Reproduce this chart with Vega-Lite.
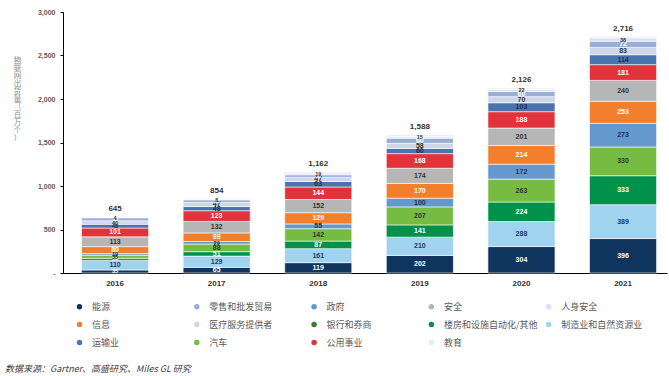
{
  "$schema": "https://vega.github.io/schema/vega-lite/v6.json",
  "width": 604,
  "height": 261,
  "autosize": {"type": "none"},
  "padding": {"left": 63, "top": 12, "right": 2, "bottom": 103},
  "background": "white",
  "config": {
    "view": {"stroke": null},
    "font": "Liberation Sans",
    "axisY": {
      "titleAngle": 0,
      "titleFont": "Noto Sans CJK SC",
      "titleFontSize": 7.5,
      "titleFontWeight": "normal",
      "titleColor": "#8c8c8c",
      "titleLineHeight": 7.8,
      "titleAlign": "center",
      "titleBaseline": "top",
      "titleX": -46,
      "titleY": 44,
      "values": [0, 500, 1000, 1500, 2000, 2500, 3000],
      "labelExpr": "datum.value === 0 ? '-' : format(datum.value, ',')",
      "labelFontSize": 7,
      "labelFontWeight": "bold",
      "labelColor": "#595959",
      "labelPadding": 5,
      "domainColor": "#000000",
      "tickColor": "#000000",
      "tickSize": 3,
      "grid": false
    }
  },
  "title": {
    "text": "数据来源：Gartner、高盛研究、Miles GL 研究",
    "orient": "bottom",
    "anchor": "start",
    "frame": "group",
    "font": "Noto Sans CJK SC",
    "fontSize": 9,
    "fontStyle": "italic",
    "fontWeight": "normal",
    "color": "#404040",
    "dx": -58,
    "offset": 17
  },
  "data": {
    "values": [
      {"year": "2016", "s": "能源", "k": 1, "v": 35},
      {"year": "2016", "s": "制造业和自然资源业", "k": 2, "v": 110},
      {"year": "2016", "s": "楼房和设施自动化/其他", "k": 3, "v": 24},
      {"year": "2016", "s": "汽车", "k": 4, "v": 35},
      {"year": "2016", "s": "政府", "k": 5, "v": 19},
      {"year": "2016", "s": "信息", "k": 6, "v": 80},
      {"year": "2016", "s": "安全", "k": 7, "v": 113},
      {"year": "2016", "s": "公用事业", "k": 8, "v": 101},
      {"year": "2016", "s": "运输业", "k": 9, "v": 43},
      {"year": "2016", "s": "医疗服务提供者", "k": 10, "v": 40},
      {"year": "2016", "s": "零售和批发贸易", "k": 11, "v": 35},
      {"year": "2016", "s": "人身安全", "k": 12, "v": 4},
      {"year": "2016", "s": "教育", "k": 13, "v": 6},

      {"year": "2017", "s": "能源", "k": 1, "v": 65},
      {"year": "2017", "s": "制造业和自然资源业", "k": 2, "v": 129},
      {"year": "2017", "s": "楼房和设施自动化/其他", "k": 3, "v": 51},
      {"year": "2017", "s": "汽车", "k": 4, "v": 88},
      {"year": "2017", "s": "政府", "k": 5, "v": 29},
      {"year": "2017", "s": "信息", "k": 6, "v": 99},
      {"year": "2017", "s": "安全", "k": 7, "v": 132},
      {"year": "2017", "s": "公用事业", "k": 8, "v": 123},
      {"year": "2017", "s": "运输业", "k": 9, "v": 48},
      {"year": "2017", "s": "医疗服务提供者", "k": 10, "v": 47},
      {"year": "2017", "s": "零售和批发贸易", "k": 11, "v": 30},
      {"year": "2017", "s": "人身安全", "k": 12, "v": 6},
      {"year": "2017", "s": "教育", "k": 13, "v": 7},

      {"year": "2018", "s": "能源", "k": 1, "v": 119},
      {"year": "2018", "s": "制造业和自然资源业", "k": 2, "v": 161},
      {"year": "2018", "s": "楼房和设施自动化/其他", "k": 3, "v": 87},
      {"year": "2018", "s": "汽车", "k": 4, "v": 142},
      {"year": "2018", "s": "政府", "k": 5, "v": 55},
      {"year": "2018", "s": "信息", "k": 6, "v": 129},
      {"year": "2018", "s": "安全", "k": 7, "v": 152},
      {"year": "2018", "s": "公用事业", "k": 8, "v": 144},
      {"year": "2018", "s": "运输业", "k": 9, "v": 63},
      {"year": "2018", "s": "医疗服务提供者", "k": 10, "v": 47},
      {"year": "2018", "s": "零售和批发贸易", "k": 11, "v": 30},
      {"year": "2018", "s": "人身安全", "k": 12, "v": 19},
      {"year": "2018", "s": "教育", "k": 13, "v": 14},

      {"year": "2019", "s": "能源", "k": 1, "v": 202},
      {"year": "2019", "s": "制造业和自然资源业", "k": 2, "v": 210},
      {"year": "2019", "s": "楼房和设施自动化/其他", "k": 3, "v": 141},
      {"year": "2019", "s": "汽车", "k": 4, "v": 207},
      {"year": "2019", "s": "政府", "k": 5, "v": 100},
      {"year": "2019", "s": "信息", "k": 6, "v": 170},
      {"year": "2019", "s": "安全", "k": 7, "v": 174},
      {"year": "2019", "s": "公用事业", "k": 8, "v": 168},
      {"year": "2019", "s": "运输业", "k": 9, "v": 60},
      {"year": "2019", "s": "医疗服务提供者", "k": 10, "v": 58},
      {"year": "2019", "s": "零售和批发贸易", "k": 11, "v": 60},
      {"year": "2019", "s": "人身安全", "k": 12, "v": 15},
      {"year": "2019", "s": "教育", "k": 13, "v": 23},

      {"year": "2020", "s": "能源", "k": 1, "v": 304},
      {"year": "2020", "s": "制造业和自然资源业", "k": 2, "v": 288},
      {"year": "2020", "s": "楼房和设施自动化/其他", "k": 3, "v": 224},
      {"year": "2020", "s": "汽车", "k": 4, "v": 263},
      {"year": "2020", "s": "政府", "k": 5, "v": 172},
      {"year": "2020", "s": "信息", "k": 6, "v": 214},
      {"year": "2020", "s": "安全", "k": 7, "v": 201},
      {"year": "2020", "s": "公用事业", "k": 8, "v": 188},
      {"year": "2020", "s": "运输业", "k": 9, "v": 103},
      {"year": "2020", "s": "医疗服务提供者", "k": 10, "v": 70},
      {"year": "2020", "s": "零售和批发贸易", "k": 11, "v": 60},
      {"year": "2020", "s": "人身安全", "k": 12, "v": 22},
      {"year": "2020", "s": "教育", "k": 13, "v": 17},

      {"year": "2021", "s": "能源", "k": 1, "v": 396},
      {"year": "2021", "s": "制造业和自然资源业", "k": 2, "v": 389},
      {"year": "2021", "s": "楼房和设施自动化/其他", "k": 3, "v": 333},
      {"year": "2021", "s": "汽车", "k": 4, "v": 330},
      {"year": "2021", "s": "政府", "k": 5, "v": 273},
      {"year": "2021", "s": "信息", "k": 6, "v": 253},
      {"year": "2021", "s": "安全", "k": 7, "v": 240},
      {"year": "2021", "s": "公用事业", "k": 8, "v": 181},
      {"year": "2021", "s": "运输业", "k": 9, "v": 114},
      {"year": "2021", "s": "医疗服务提供者", "k": 10, "v": 83},
      {"year": "2021", "s": "零售和批发贸易", "k": 11, "v": 72},
      {"year": "2021", "s": "人身安全", "k": 12, "v": 38},
      {"year": "2021", "s": "教育", "k": 13, "v": 14}
    ]
  },
  "encoding": {
    "x": {
      "field": "year",
      "type": "nominal",
      "scale": {"paddingInner": 0.34, "paddingOuter": 0.1425, "align": 0.64},
      "axis": {
        "title": null,
        "labelAngle": 0,
        "labelFontSize": 8,
        "labelFontWeight": "bold",
        "labelColor": "#333333",
        "labelPadding": 6,
        "domainColor": "#000000",
        "ticks": false
      }
    }
  },
  "layer": [
    {
      "mark": {"type": "bar", "stroke": "white", "strokeWidth": 0.6},
      "encoding": {
        "y": {
          "field": "v",
          "type": "quantitative",
          "stack": "zero",
          "title": ["物", "联", "网", "出", "货", "量", "（", "百", "万", "个", "）"],
          "scale": {"domain": [0, 3000]}
        },
        "color": {
          "field": "s",
          "type": "nominal",
          "scale": {
            "domain": ["能源", "零售和批发贸易", "政府", "安全", "人身安全", "信息", "医疗服务提供者", "银行和券商", "楼房和设施自动化/其他", "制造业和自然资源业", "运输业", "汽车", "公用事业", "教育"],
            "range": ["#0f355e", "#9aaed6", "#6599ce", "#b6b6b6", "#d9e0ef", "#f37e2b", "#cdd6ea", "#3d7a2b", "#00914a", "#9fd3f0", "#4b73ae", "#76bc43", "#e2323a", "#e8ecf5"]
          },
          "legend": {
            "orient": "none",
            "legendX": 12,
            "legendY": 290,
            "direction": "horizontal",
            "columns": 5,
            "gridAlign": "all",
            "title": null,
            "padding": 0,
            "symbolType": "circle",
            "symbolSize": 30,
            "symbolStrokeWidth": 0,
            "labelFont": "Noto Sans CJK SC",
            "labelFontSize": 9,
            "labelColor": "#595959",
            "labelOffset": 8,
            "columnPadding": 6.3,
            "rowPadding": 8,
            "labelLimit": 200
          }
        },
        "order": {"field": "k", "type": "quantitative"}
      }
    },
    {
      "transform": [{"filter": "datum.s !== '教育'"}],
      "mark": {"type": "text", "fontWeight": "bold", "baseline": "middle"},
      "encoding": {
        "y": {"field": "v", "type": "quantitative", "stack": "zero", "bandPosition": 0.5, "title": ["物", "联", "网", "出", "货", "量", "（", "百", "万", "个", "）"]},
        "color": {
          "field": "s",
          "type": "nominal",
          "scale": {
            "domain": ["能源", "零售和批发贸易", "政府", "安全", "人身安全", "信息", "医疗服务提供者", "银行和券商", "楼房和设施自动化/其他", "制造业和自然资源业", "运输业", "汽车", "公用事业", "教育"],
            "range": ["#ffffff", "#ffffff", "#1e2f4f", "#333333", "#333333", "#ffffff", "#333333", "#ffffff", "#ffffff", "#1e3a5f", "#1e2f4f", "#333333", "#ffffff", "#333333"]
          },
          "legend": null
        },
        "size": {"condition": {"test": "datum.v < 45", "value": 5.5}, "value": 7},
        "order": {"field": "k", "type": "quantitative"},
        "text": {"field": "v", "type": "quantitative"}
      }
    },
    {
      "transform": [{"aggregate": [{"op": "sum", "field": "v", "as": "t"}], "groupby": ["year"]}],
      "mark": {"type": "text", "dy": -8, "fontSize": 8, "fontWeight": "bold", "color": "#333333"},
      "encoding": {
        "y": {"field": "t", "type": "quantitative", "title": ["物", "联", "网", "出", "货", "量", "（", "百", "万", "个", "）"]},
        "text": {"field": "t", "type": "quantitative", "format": ","}
      }
    }
  ],
  "resolve": {"scale": {"color": "independent"}}
}
